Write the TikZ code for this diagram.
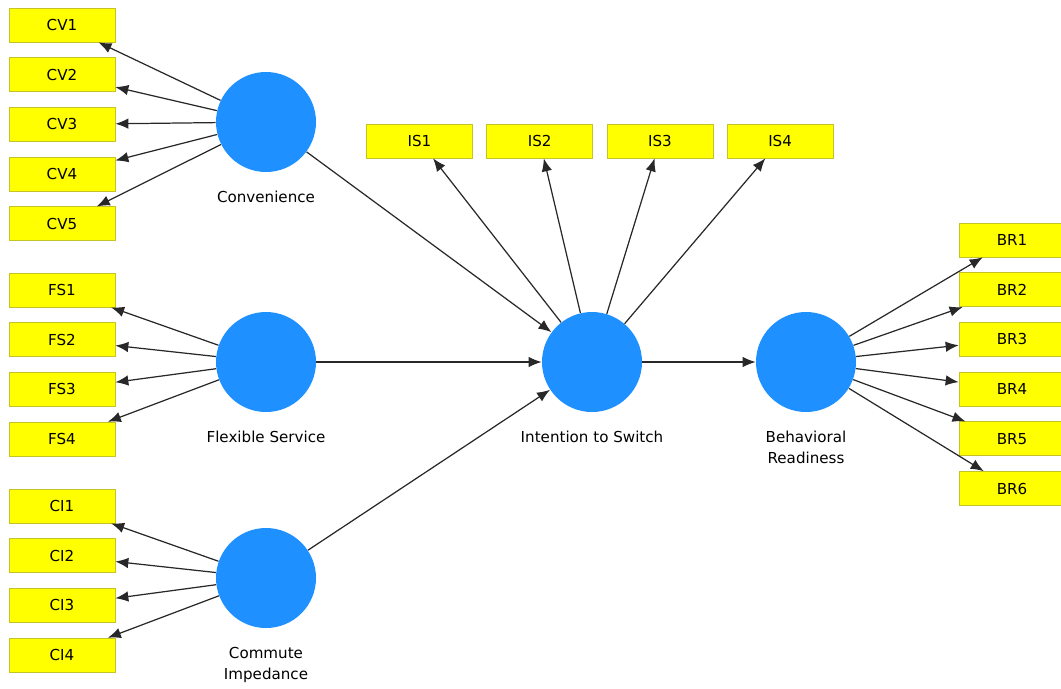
\documentclass[tikz,border=0pt]{standalone}
\usepackage{fontspec}
\setmainfont{DejaVu Sans}
\usetikzlibrary{arrows.meta,positioning}
\definecolor{indyellow}{RGB}{255,255,0}
\definecolor{indborder}{RGB}{196,196,40}
\definecolor{latblue}{RGB}{30,144,255}
\definecolor{arrgray}{RGB}{40,40,40}

\begin{document}
\begin{tikzpicture}[
  node distance=3mm and 2.7mm,
  font=\fontsize{8.6}{12.2}\selectfont,
  ind/.style={draw=indborder,fill=indyellow,minimum width=21.2mm,minimum height=6.8mm,inner sep=0pt},
  lat/.style={circle,fill=latblue,minimum size=20mm,inner sep=0pt},
  lab/.style={align=center,label distance=2.5mm},
  arr/.style={-{Latex[length=2.6mm,width=2.1mm]},line width=0.7pt,draw=arrgray}]
\useasboundingbox (0,0) rectangle (21.22,-13.76);
% latent variables
\node[lat,label={[lab]below:Convenience}] (conv) at (5.32,-2.44) {};
\node[lat,label={[lab]below:Flexible Service}] (flex) at (5.32,-7.24) {};
\node[lat,label={[lab]below:Commute\\Impedance}] (comm) at (5.32,-11.56) {};
\node[lat,label={[lab]below:Intention to Switch}] (int) at (11.84,-7.24) {};
\node[lat,label={[lab]below:Behavioral\\Readiness}] (beh) at (16.12,-7.24) {};
% indicators
\node[ind] (cv1) at (1.24,-0.50) {CV1};
\node[ind,below=of cv1] (cv2) {CV2};
\node[ind,below=of cv2] (cv3) {CV3};
\node[ind,below=of cv3] (cv4) {CV4};
\node[ind,below=of cv4] (cv5) {CV5};
\node[ind] (fs1) at (1.24,-5.80) {FS1};
\node[ind,below=of fs1] (fs2) {FS2};
\node[ind,below=of fs2] (fs3) {FS3};
\node[ind,below=of fs3] (fs4) {FS4};
\node[ind] (ci1) at (1.24,-10.12) {CI1};
\node[ind,below=of ci1] (ci2) {CI2};
\node[ind,below=of ci2] (ci3) {CI3};
\node[ind,below=of ci3] (ci4) {CI4};
\node[ind] (is1) at (8.39,-2.82) {IS1};
\node[ind,right=of is1] (is2) {IS2};
\node[ind,right=of is2] (is3) {IS3};
\node[ind,right=of is3] (is4) {IS4};
\node[ind] (br1) at (20.24,-4.80) {BR1};
\node[ind,below=of br1] (br2) {BR2};
\node[ind,below=of br2] (br3) {BR3};
\node[ind,below=of br3] (br4) {BR4};
\node[ind,below=of br4] (br5) {BR5};
\node[ind,below=of br5] (br6) {BR6};
% outer model
\foreach \i in {1,...,5} \draw[arr] (conv) -- (cv\i);
\foreach \i in {1,...,4} \draw[arr] (flex) -- (fs\i);
\foreach \i in {1,...,4} \draw[arr] (comm) -- (ci\i);
\foreach \i in {1,...,4} \draw[arr] (int) -- (is\i);
\foreach \i in {1,...,6} \draw[arr] (beh) -- (br\i);
% inner model
\draw[arr] (conv) -- (int); \draw[arr] (flex) -- (int);
\draw[arr] (comm) -- (int); \draw[arr] (int) -- (beh);
\end{tikzpicture}
\end{document}
